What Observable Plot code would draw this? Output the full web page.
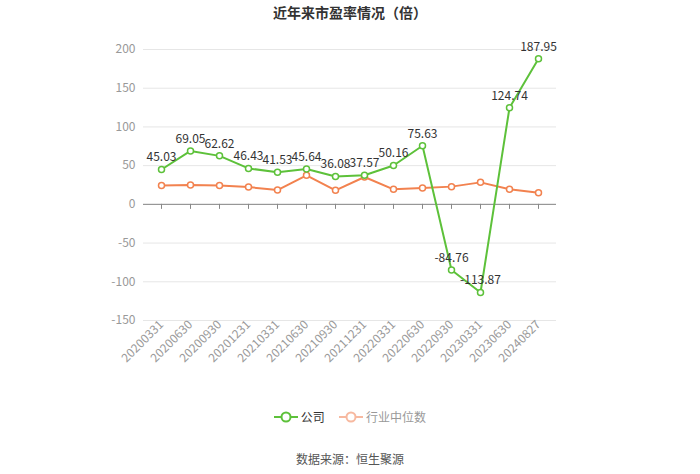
<!DOCTYPE html>
<html><head><meta charset="utf-8">
<script src="https://cdn.jsdelivr.net/npm/d3@7"></script>
<script src="https://cdn.jsdelivr.net/npm/@observablehq/plot@0.6"></script>
<style>
body{margin:0;background:#fff;font-family:"Noto Sans CJK SC","Noto Sans",sans-serif;}
#wrap{width:700px;height:474px;position:relative;}
#title{position:absolute;top:2px;left:0;width:700px;text-align:center;font-size:14px;font-weight:bold;color:#333;}
#chart{position:absolute;top:28px;left:0;}
#legend{position:absolute;top:408px;left:0;width:700px;text-align:center;font-size:12px;}
#legend span{display:inline-flex;align-items:center;margin:0 6px;}
#footer{position:absolute;top:450px;left:0;width:700px;text-align:center;font-size:12px;color:#555;}
</style></head>
<body><div id="wrap">
<div id="title">近年来市盈率情况（倍）</div>
<div id="chart"></div>
<div id="legend">
<span style="color:#333"><svg width="24" height="14"><line x1="0" y1="7" x2="24" y2="7" stroke="#5dc13a" stroke-width="2"/><circle cx="12" cy="7" r="4.5" fill="#fff" stroke="#5dc13a" stroke-width="2"/></svg>&nbsp;公司</span>
<span style="color:#999"><svg width="24" height="14"><line x1="0" y1="7" x2="24" y2="7" stroke="#f7b9a0" stroke-width="2"/><circle cx="12" cy="7" r="4.5" fill="#fff" stroke="#f7b9a0" stroke-width="2"/></svg>&nbsp;行业中位数</span>
</div>
<div id="footer">数据来源：恒生聚源</div>
</div>
<script>
const dates = ["20200331","20200630","20200930","20201231","20210331","20210630","20210930","20211231","20220331","20220630","20220930","20230331","20230630","20240827"];
const company = [45.03,69.05,62.62,46.43,41.53,45.64,36.08,37.57,50.16,75.63,-84.76,-113.87,124.74,187.95];
const industry = [24.5,25.0,24.5,22.3,18.5,37.5,18.1,35.3,19.4,21.1,22.9,28.4,19.4,15.1];
const yTicks = [-150,-100,-50,0,50,100,150,200];

const comp = dates.map((d,i)=>({d, v: company[i]}));
const ind = dates.map((d,i)=>({d, v: industry[i]}));
const green = "#5dc13a", orange = "#f2824f";

const chart = Plot.plot({
  width: 700, height: 360,
  marginLeft: 143, marginRight: 144, marginTop: 21, marginBottom: 68,
  style: {fontFamily: '"Noto Sans CJK SC","Noto Sans",sans-serif', fontSize: "12px"},
  x: {type: "point", domain: dates, padding: 0.5, label: null},
  y: {domain: [-150, 200], label: null},
  marks: [
    Plot.gridY(yTicks, {stroke: "#e6e6e6", strokeOpacity: 1}),
    Plot.axisY(yTicks, {tickSize: 0, tickPadding: 8, color: "#999", fontSize: 12, label: null, tickFormat: d => String(d)}),
    Plot.axisX({tickRotate: -45, tickSize: 0, tickPadding: 2, color: "#999", fontSize: 12, label: null, frameAnchor: "bottom"}),
    Plot.ruleY([0], {stroke: "#888"}),
    Plot.ruleX(dates, {x: d => d, y1: 0, y2: -6.5, stroke: "#888"}),
    Plot.line(ind, {x: "d", y: "v", stroke: orange, strokeWidth: 2}),
    Plot.dot(ind, {x: "d", y: "v", r: 3, fill: "#fff", stroke: orange, strokeWidth: 1.5}),
    Plot.line(comp, {x: "d", y: "v", stroke: green, strokeWidth: 2}),
    Plot.dot(comp, {x: "d", y: "v", r: 3, fill: "#fff", stroke: green, strokeWidth: 1.5}),
    Plot.text(comp, {x: "d", y: "v", text: d => d.v.toFixed(2), dy: -12, fill: "#333", fontSize: 12})
  ]
});
document.getElementById("chart").appendChild(chart);
</script>
</body></html>
